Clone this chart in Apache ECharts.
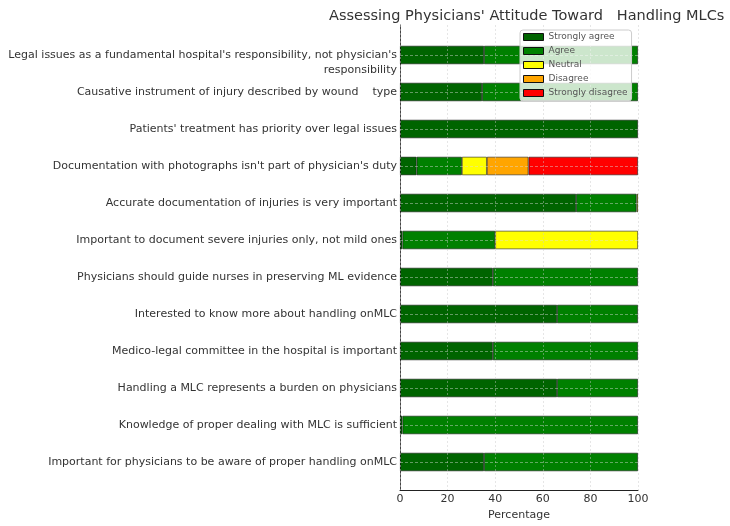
<!DOCTYPE html>
<html>
<head>
<meta charset="utf-8">
<script src="https://cdn.jsdelivr.net/npm/echarts@6/dist/echarts.min.js"></script>
<style>
  html, body { margin: 0; padding: 0; background: #fff; }
  #chart { width: 730px; height: 526px; }
</style>
</head>
<body>
<div id="chart"></div>
<script>
var categories = [
  "Legal issues as a fundamental hospital's responsibility, not physician's\nresponsibility",
  'Causative instrument of injury described by wound    type',
  "Patients' treatment has priority over legal issues",
  "Documentation with photographs isn't part of physician's duty",
  'Accurate documentation of injuries is very important',
  'Important to document severe injuries only, not mild ones',
  'Physicians should guide nurses in preserving ML evidence',
  'Interested to know more about handling onMLC',
  'Medico-legal committee in the hospital is important',
  'Handling a MLC represents a burden on physicians',
  'Knowledge of proper dealing with MLC is sufficient',
  'Important for physicians to be aware of proper handling onMLC'
]
var stronglyAgree = [35.3, 34.5, 100, 7, 74, 1, 39, 66, 39, 66, 1, 35.3]
var agree = [64.7, 65.5, 0, 19, 25.4, 39, 61, 34, 61, 34, 99, 64.7]
var neutral = [0, 0, 0, 10.5, 0.6, 60, 0, 0, 0, 0, 0, 0]
var disagree = [0, 0, 0, 17.5, 0, 0, 0, 0, 0, 0, 0, 0]
var stronglyDisagree = [0, 0, 0, 46, 0, 0, 0, 0, 0, 0, 0, 0]
var xTicks = [0, 20, 40, 60, 80, 100]

var levels = [
  { name: 'Strongly agree', data: stronglyAgree, color: '#006400' },
  { name: 'Agree', data: agree, color: '#008000' },
  { name: 'Neutral', data: neutral, color: '#ffff00' },
  { name: 'Disagree', data: disagree, color: '#ffa500' },
  { name: 'Strongly disagree', data: stronglyDisagree, color: '#ff0000' }
]

var font = 'DejaVu Sans'
var myChart = echarts.init(document.getElementById('chart'))

var series = levels.map(function (l) {
  return {
    name: l.name,
    type: 'bar',
    stack: 'total',
    xAxisIndex: 1,
    yAxisIndex: 1,
    barWidth: '50%',
    itemStyle: { color: l.color, borderColor: 'rgba(0,0,0,0.65)', borderWidth: 0.8 },
    emphasis: { disabled: true },
    data: l.data.map(function (v) { return v === 0 ? '-' : v })
  }
})
// dashed lines through the bar centres (grid drawn above the bars)
series.push({
  name: 'grid',
  type: 'line',
  xAxisIndex: 1,
  yAxisIndex: 1,
  data: [],
  z: 3,
  markLine: {
    silent: true,
    symbol: 'none',
    label: { show: false },
    lineStyle: { color: 'rgba(220,220,220,0.45)', type: [3, 2], width: 1 },
    data: categories.map(function (c) { return { yAxis: c } })
  }
})

myChart.setOption({
  animation: false,
  title: {
    text: "Assessing Physicians' Attitude Toward   Handling MLCs",
    left: 324,
    top: 4,
    textStyle: { fontFamily: font, fontSize: 14.5, fontWeight: 'normal', color: '#333' }
  },
  legend: {
    data: levels.map(function (l) { return l.name }),
    orient: 'vertical',
    left: 520,
    top: 30,
    z: 10,
    icon: 'rect',
    itemWidth: 20,
    itemHeight: 7,
    itemGap: 4,
    itemTextGap: 6,
    padding: [2, 4, 3, 3],
    backgroundColor: 'rgba(255,255,255,0.8)',
    borderColor: '#ccc',
    borderWidth: 1,
    borderRadius: 3,
    itemStyle: { borderColor: '#111', borderWidth: 1 },
    textStyle: { fontFamily: font, fontSize: 9, lineHeight: 10, color: '#555' }
  },
  grid: [
    { left: 400, right: 92, top: 25, bottom: 34 },
    { left: 400, right: 92, top: 36.5, bottom: 45.5 }
  ],
  xAxis: [
    {
      type: 'value',
      gridIndex: 0,
      min: 0,
      max: 100,
      interval: 20,
      z: 5,
      name: 'Percentage',
      nameLocation: 'middle',
      nameGap: 17,
      nameTextStyle: { fontFamily: font, fontSize: 11, color: '#333' },
      axisLine: { show: true, lineStyle: { color: '#222', width: 1 } },
      axisTick: { show: false },
      axisLabel: { fontFamily: font, fontSize: 11, color: '#333', margin: 4,
        customValues: xTicks },
      splitLine: { show: true, lineStyle: { color: 'rgba(200,200,200,0.45)', type: [2, 2] } }
    },
    { type: 'value', gridIndex: 1, min: 0, max: 100, show: false }
  ],
  yAxis: [
    {
      type: 'value',
      gridIndex: 0,
      axisLine: { show: true, onZero: false, lineStyle: { color: '#444', width: 1 } },
      axisTick: { show: false },
      axisLabel: { show: false },
      splitLine: { show: false }
    },
    {
      type: 'category',
      gridIndex: 1,
      inverse: true,
      data: categories,
      axisLine: { show: false },
      axisTick: { show: false },
      axisLabel: {
        fontFamily: font, fontSize: 11, color: '#333', margin: 3,
        formatter: function (v) {
          var lines = v.split('\n')
          if (lines.length < 2) return v
          // empty top line so the first line sits on the bar centre, second hangs below
          return '{t| }\n{t|' + lines[0] + '}\n{t|' + lines[1] + '}'
        },
        rich: {
          t: { fontFamily: font, fontSize: 11, color: '#333', lineHeight: 15 }
        }
      },
      splitLine: { show: false }
    }
  ],
  series: series
})
</script>
</body>
</html>
